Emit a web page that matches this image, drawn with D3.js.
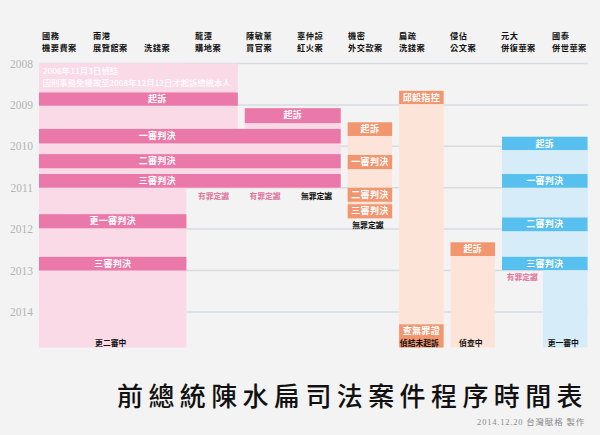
<!DOCTYPE html>
<html><head><meta charset="utf-8">
<script src="https://cdn.jsdelivr.net/npm/d3@7"></script>
<style>html,body{margin:0;padding:0;background:#f3f3f3;} svg{display:block;}</style>
</head><body>
<svg id="chart" width="600" height="435"></svg>
<script>
// ---- data ----
const years = [2008, 2009, 2010, 2011, 2012, 2013, 2014];
const caseTop    = ["國務", "南港", "", "龍潭", "陳敏薰", "辜仲諒", "機密", "扁疏", "侵佔", "元大", "國泰"];
const caseBottom = ["機要費案", "展覽館案", "洗錢案", "購地案", "買官案", "紅火案", "外交款案", "洗錢案", "公文案", "併復華案", "併世華案"];
// case periods (light background): [colFrom, colTo, yearFrom, yearTo, group]
const periods = [
  [0, 3, 2008.00, 2011.00, "pink"],
  [0, 2, 2008.00, 2014.86, "pink"],
  [4, 5, 2009.08, 2011.00, "pink"],
  [0, 5, 2009.58, 2011.00, "pink"],
  [6, 6, 2009.42, 2011.74, "orange"],
  [7, 7, 2008.66, 2014.86, "orange"],
  [8, 8, 2012.32, 2014.86, "orange"],
  [9, 10, 2009.77, 2012.99, "blue"],
  [10, 10, 2009.77, 2014.86, "blue"]
];
// procedure steps: [colFrom, colTo, yearFrom, yearTo, label, group, labelCol]
const steps = [
  [0, 3, 2008.70, 2009.02, "起訴", "pink", 2.3],
  [4, 5, 2009.08, 2009.44, "起訴", "pink", null],
  [0, 5, 2009.58, 2009.93, "一審判決", "pink", 2.3],
  [0, 5, 2010.19, 2010.53, "二審判決", "pink", 2.3],
  [0, 5, 2010.67, 2011.00, "三審判決", "pink", 2.3],
  [0, 2, 2011.64, 2011.98, "更一審判決", "pink", null],
  [0, 2, 2012.67, 2013.00, "三審判決", "pink", null],
  [6, 6, 2009.42, 2009.75, "起訴", "orange", null],
  [6, 6, 2010.21, 2010.55, "一審判決", "orange", null],
  [6, 6, 2011.00, 2011.34, "二審判決", "orange", null],
  [6, 6, 2011.40, 2011.74, "三審判決", "orange", null],
  [7, 7, 2008.66, 2008.98, "邱毅指控", "orange", null],
  [7, 7, 2014.30, 2014.86, "查無罪證", "orange", null],
  [8, 8, 2012.32, 2012.65, "起訴", "orange", null],
  [9, 10, 2009.77, 2010.09, "起訴", "blue", null],
  [9, 10, 2010.67, 2011.00, "一審判決", "blue", null],
  [9, 10, 2011.72, 2012.05, "二審判決", "blue", null],
  [9, 10, 2012.67, 2012.99, "三審判決", "blue", null]
];
// outcome / status notes: [colFrom, colTo, year, text, kind]
const outcomes = [
  [3, 3, 2011.20, "有罪定讞", "guilty"],
  [4, 4, 2011.20, "有罪定讞", "guilty"],
  [5, 5, 2011.20, "無罪定讞", "plain"],
  [6, 6, 2011.90, "無罪定讞", "plain"],
  [9, 9, 2013.15, "有罪定讞", "guilty"],
  [0, 2, 2014.74, "更二審中", "plain"],
  [7, 7, 2014.74, "偵結未起訴", "plain"],
  [8, 8, 2014.74, "偵查中", "plain"],
  [10, 10, 2014.74, "更一審中", "plain"]
];
// remark in the first case period: [col, year, text]
const remarks = [
  [0, 2008.17, "2006年11月3日偵結"],
  [0, 2008.45, "因刑事豁免權故至2008年12月12日才起訴總統本人"]
];
const title = "前總統陳水扁司法案件程序時間表";
const credit = "2014.12.20 台灣賦格 製作";

// ---- styles ----
const strong = {pink: "#ea78a8", orange: "#f29670", blue: "#57c0ef"};
const light  = {pink: "#fadae7", orange: "#fde4d8", blue: "#d6ecf9"};
const CJK = "'Noto Sans CJK TC', 'Noto Sans CJK SC', sans-serif";
const SERIF = "'Liberation Serif', 'Noto Sans CJK TC', serif";

const svg = d3.select("#chart");
const W = 600, H = 435;
svg.append("rect").attr("width", W).attr("height", H).attr("fill", "#f3f3f3");

const y = d3.scaleLinear().domain([2008, 2014]).range([63.5, 311.9]);
const x = d3.scaleLinear().domain([0, 9, 10]).range([39, 502, 543]);
const colW = 44.5;
const xHead = d3.scaleLinear().domain([0, 10]).range([42, 552]);

// gridlines + year axis
const axis = d3.axisLeft(y).tickValues(years).tickFormat(d3.format("d")).tickSize(0).tickPadding(6);
const gAxis = svg.append("g").attr("transform", "translate(39,0)").call(axis);
gAxis.select(".domain").remove();
gAxis.selectAll("text").attr("font-family", SERIF).attr("font-size", 11.5).attr("fill", "#b3b3b3");
svg.append("g").selectAll("line").data(years).join("line")
  .attr("x1", 39).attr("x2", 588)
  .attr("y1", d => y(d)).attr("y2", d => y(d))
  .attr("stroke", "#d5dde3").attr("stroke-width", 1.5);

// headers
const gh = svg.append("g").attr("font-family", CJK).attr("font-weight", 700).attr("font-size", 8.2)
  .attr("letter-spacing", 0.5).attr("fill", "#111");
gh.selectAll("text.t").data(caseTop).join("text").attr("class", "t")
  .attr("x", (d, i) => xHead(i)).attr("y", 34.7).attr("dominant-baseline", "central").text(d => d);
gh.selectAll("text.b").data(caseBottom).join("text").attr("class", "b")
  .attr("x", (d, i) => xHead(i)).attr("y", 46.9).attr("dominant-baseline", "central").text(d => d);

// periods
svg.append("g").selectAll("rect").data(periods).join("rect")
  .attr("x", d => x(d[0])).attr("width", d => x(d[1]) + colW - x(d[0]))
  .attr("y", d => y(d[2])).attr("height", d => y(d[3]) - y(d[2]))
  .attr("fill", d => light[d[4]]);

// steps
svg.append("g").selectAll("rect").data(steps).join("rect")
  .attr("x", d => x(d[0])).attr("width", d => x(d[1]) + colW - x(d[0]))
  .attr("y", d => y(d[2])).attr("height", d => y(d[3]) - y(d[2]))
  .attr("fill", d => strong[d[5]]);
svg.append("g").selectAll("text").data(steps).join("text")
  .attr("x", d => d[6] != null ? x(d[6]) : (x(d[0]) + x(d[1]) + colW) / 2)
  .attr("y", d => y(d[2]) + 6.4).attr("dominant-baseline", "central").attr("text-anchor", "middle")
  .attr("font-family", CJK).attr("font-weight", 700).attr("font-size", 9).attr("letter-spacing", 0.3)
  .attr("fill", "#fff")
  .text(d => d[4]);

// outcomes
svg.append("g").selectAll("text").data(outcomes).join("text")
  .attr("x", d => (x(d[0]) + x(d[1]) + colW) / 2 - 2)
  .attr("y", d => y(d[2])).attr("dominant-baseline", "central").attr("text-anchor", "middle")
  .attr("font-family", CJK).attr("font-weight", 700).attr("font-size", 7.8)
  .attr("fill", d => d[4] === "guilty" ? "#e0789e" : "#111")
  .text(d => d[3]);

// remarks
const remarkWidths = [75.6, 188];
svg.append("g").selectAll("text").data(remarks).join("text")
  .attr("x", d => x(d[0]) + 3.7).attr("y", d => y(d[1])).attr("dominant-baseline", "central")
  .attr("font-family", CJK).attr("font-weight", 500).attr("font-size", 8).attr("fill", "#fff")
  .attr("textLength", (d, i) => remarkWidths[i]).attr("lengthAdjust", "spacingAndGlyphs")
  .text(d => d[2]);

// title and credit
svg.append("text").attr("x", 117).attr("y", 394.5).attr("dominant-baseline", "central")
  .attr("font-family", CJK).attr("font-weight", 500).attr("font-size", 26).attr("letter-spacing", 5.4)
  .attr("fill", "#111").text(title);
svg.append("text").attr("x", 585).attr("y", 421.7).attr("dominant-baseline", "central").attr("text-anchor", "end")
  .attr("font-family", SERIF).attr("font-size", 8.5).attr("letter-spacing", 0.8)
  .attr("fill", "#8a8a8a").text(credit);
</script>
</body></html>
